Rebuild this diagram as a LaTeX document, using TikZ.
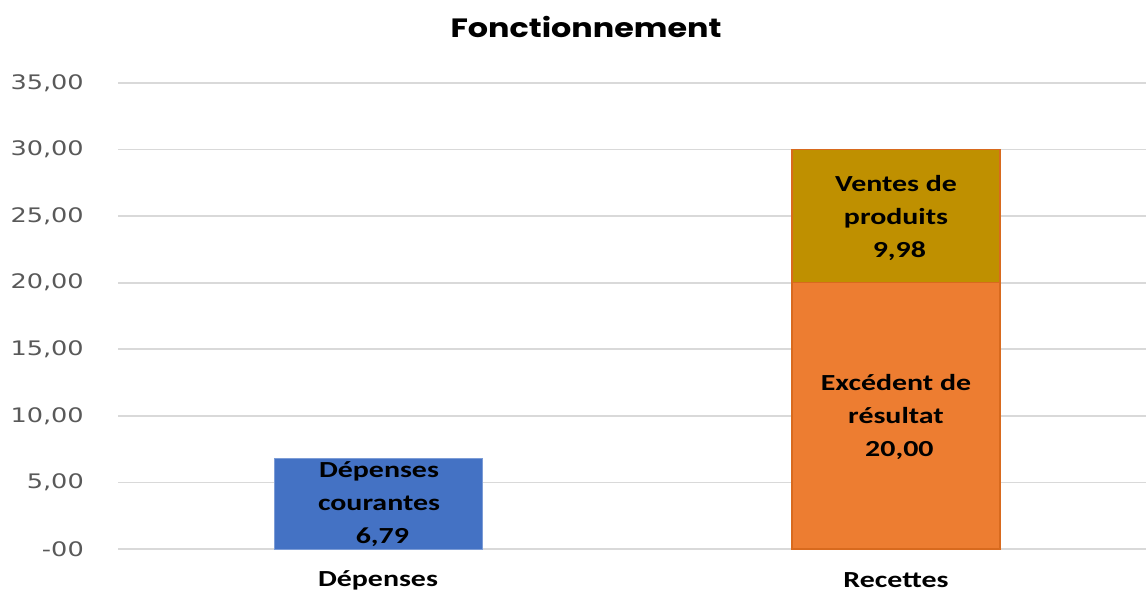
\documentclass[tikz,border=0pt]{standalone}
\usepackage{fontspec}
\newfontfamily\titlefont[FakeStretch=1.2]{Poppins}
\newfontfamily\axisfont[FakeStretch=1.28]{DejaVu Sans}
\newfontfamily\barfont[FakeStretch=1.3]{Carlito}
\definecolor{gridc}{HTML}{D9D9D9}
\definecolor{axisc}{HTML}{595959}
\definecolor{blueb}{HTML}{4472C4}
\definecolor{orangeb}{HTML}{ED7D31}
\definecolor{orangeedge}{HTML}{D86A1E}
\definecolor{goldb}{HTML}{BF9000}
\tikzset{
  gridline/.style={draw=gridc, line width=1.6pt},
  ylab/.style={anchor=east, text=axisc, font={\axisfont\fontsize{20}{22}\selectfont}, inner sep=0pt},
  barlab/.style={align=center, text=black, font={\barfont\bfseries\fontsize{23}{33}\selectfont}, inner sep=0pt},
  catlab/.style={text=black, font={\barfont\bfseries\fontsize{23}{26}\selectfont}, inner sep=0pt},
}
\begin{document}
\begin{tikzpicture}[x=1pt,y=-1pt]
\useasboundingbox (0,0) rectangle (1146,593);
\fill[white] (0,0) rectangle (1146,593);
% gridlines and labels
\foreach \v/\t in {0/-00,5/{5,00},10/{10,00},15/{15,00},20/{20,00},25/{25,00},30/{30,00},35/{35,00}}{
  \pgfmathsetmacro{\yy}{549-\v*13.314}
  \draw[gridline] (118,\yy) -- (1146,\yy);
  \node[ylab] at (84,\yy) {\t};
}
% bars
\fill[blueb] (274,549) rectangle (482,458.6);
\draw[blueb!70!white, line width=0.6pt] (274,549) rectangle (482,458.6);
\fill[orangeb] (792,549) rectangle (1000,282.7);
\fill[goldb] (792,282.7) rectangle (1000,149.9);
\draw[orangeedge, line width=1.2pt] (792,549) rectangle (1000,282.7);
\draw[orangeedge, line width=1.2pt] (792,282.7) rectangle (1000,149.9);
% bar labels
\node[barlab] (ldep) at (379,504) {Dépenses\\courantes\\\ 6,79};
\node[barlab] (lven) at (896,218) {Ventes de\\produits\\\ 9,98};
\node[barlab] (lexc) at (896,417) {Excédent de\\résultat\\\ 20,00};
% categories
\node[catlab] (cdep) at (378,580) {Dépenses};
\node[catlab] (crec) at (896,580) {Recettes};
% title
\node[font={\titlefont\bfseries\fontsize{26.5}{30}\selectfont}, inner sep=0pt] (title) at (586,27) {Fonctionnement};
\end{tikzpicture}
\end{document}
